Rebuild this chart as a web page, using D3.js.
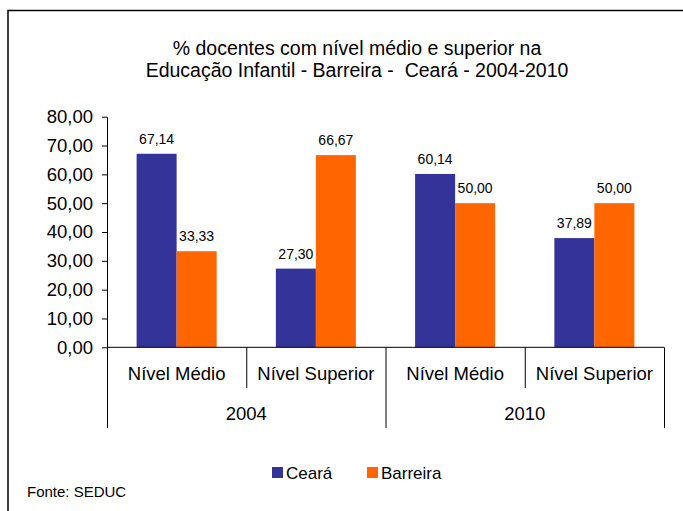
<!DOCTYPE html>
<html>
<head>
<meta charset="utf-8">
<script src="https://cdn.jsdelivr.net/npm/d3@7"></script>
<style>
  body { margin: 0; background: #fff; }
  svg text { font-family: "Liberation Sans", Arial, sans-serif; fill: #000; white-space: pre; }
  .axis path, .axis line { stroke: #000; }
</style>
</head>
<body>
<svg id="chart" width="683" height="511"></svg>
<script>
var years = ["2004", "2010"];
var levels = ["Nível Médio", "Nível Superior"];
var seriesNames = ["Ceará", "Barreira"];
var ceara = [67.14, 27.30, 60.14, 37.89];
var barreira = [33.33, 66.67, 50.00, 50.00];
var yTicks = [0, 10, 20, 30, 40, 50, 60, 70, 80];
var colors = ["#333399", "#ff6600"];

var fmt = function(v){ return v.toFixed(2).replace(".", ","); };

// categories = year x level
var cats = [];
years.forEach(function(y){
    levels.forEach(function(l){ cats.push({year: y, level: l, key: y + "|" + l}); });
});
var rows = cats.map(function(c, i){
    return {key: c.key, level: c.level, year: c.year, values: [ceara[i], barreira[i]]};
});

var svg = d3.select("#chart");

// outer frame (right and bottom edges fall off the picture)
svg.append("path")
    .attr("d", "M8,520 L8,10.5 L700,10.5")
    .attr("fill", "none")
    .attr("stroke", "#000")
    .attr("stroke-width", 1.5);

svg.append("text").attr("x", 357).attr("y", 55).attr("text-anchor", "middle")
    .style("font-size", "19.5px").text("% docentes com nível médio e superior na");
svg.append("text").attr("x", 357).attr("y", 77).attr("text-anchor", "middle")
    .style("font-size", "19.5px").text("Educação Infantil - Barreira -  Ceará - 2004-2010");

var pLeft = 107, pRight = 664, pTop = 116.7, pBottom = 347.3;

var x0 = d3.scaleBand().domain(rows.map(function(d){ return d.key; })).range([pLeft, pRight]);
var x1 = d3.scaleBand().domain(seriesNames).range([0, x0.bandwidth()]).paddingOuter(0.74);
var y = d3.scaleLinear().domain([0, 80]).range([pBottom, pTop]);

// y axis
var yAxis = svg.append("g").attr("class", "axis")
    .attr("transform", "translate(" + pLeft + ",0)")
    .call(d3.axisLeft(y).tickValues(yTicks).tickFormat(fmt).tickSize(5).tickSizeOuter(0).tickPadding(9));
yAxis.selectAll("text").style("font-size", "18.5px");

// bars
var groups = svg.selectAll("g.grp").data(rows).enter().append("g")
    .attr("class", "grp")
    .attr("transform", function(d){ return "translate(" + x0(d.key) + ",0)"; });

groups.selectAll("rect").data(function(d){
        return d.values.map(function(v, i){ return {name: seriesNames[i], v: v, i: i}; });
    }).enter().append("rect")
    .attr("x", function(d){ return x1(d.name); })
    .attr("width", x1.bandwidth())
    .attr("y", function(d){ return y(d.v); })
    .attr("height", function(d){ return y(0) - y(d.v); })
    .attr("fill", function(d){ return colors[d.i]; });

groups.selectAll("text.val").data(function(d){
        return d.values.map(function(v, i){ return {name: seriesNames[i], v: v}; });
    }).enter().append("text")
    .attr("class", "val")
    .attr("x", function(d){ return x1(d.name) + x1.bandwidth() / 2; })
    .attr("y", function(d){ return y(d.v) - 10; })
    .attr("text-anchor", "middle")
    .style("font-size", "14px")
    .text(function(d){ return fmt(d.v); });

// x axis line and category dividers
svg.append("line").attr("x1", pLeft).attr("x2", pRight).attr("y1", pBottom).attr("y2", pBottom)
    .attr("stroke", "#000");
var bounds = rows.map(function(d){ return x0(d.key); }).concat([pRight]);
bounds.forEach(function(bx, i){
    var outer = (i % levels.length === 0);
    svg.append("line")
        .attr("x1", bx + 0.5).attr("x2", bx + 0.5)
        .attr("y1", pBottom).attr("y2", outer ? 428 : 388)
        .attr("stroke", "#000");
});

svg.selectAll("text.lvl").data(rows).enter().append("text")
    .attr("class", "lvl")
    .attr("x", function(d){ return x0(d.key) + x0.bandwidth() / 2; })
    .attr("y", 380)
    .attr("text-anchor", "middle")
    .style("font-size", "18.5px")
    .text(function(d){ return d.level; });

svg.selectAll("text.yr").data(years).enter().append("text")
    .attr("class", "yr")
    .attr("x", function(yr){
        var ks = rows.filter(function(r){ return r.year === yr; });
        return (x0(ks[0].key) + x0(ks[ks.length - 1].key) + x0.bandwidth()) / 2;
    })
    .attr("y", 420)
    .attr("text-anchor", "middle")
    .style("font-size", "18.5px")
    .text(function(yr){ return yr; });

// legend
var legX = [272, 367];
seriesNames.forEach(function(n, i){
    svg.append("rect").attr("x", legX[i]).attr("y", 467).attr("width", 11).attr("height", 11)
        .attr("fill", colors[i]);
    svg.append("text").attr("x", legX[i] + 14).attr("y", 479)
        .style("font-size", "17px").text(n);
});

svg.append("text").attr("x", 27).attr("y", 497).style("font-size", "15px")
    .text("Fonte: SEDUC");
</script>
</body>
</html>
